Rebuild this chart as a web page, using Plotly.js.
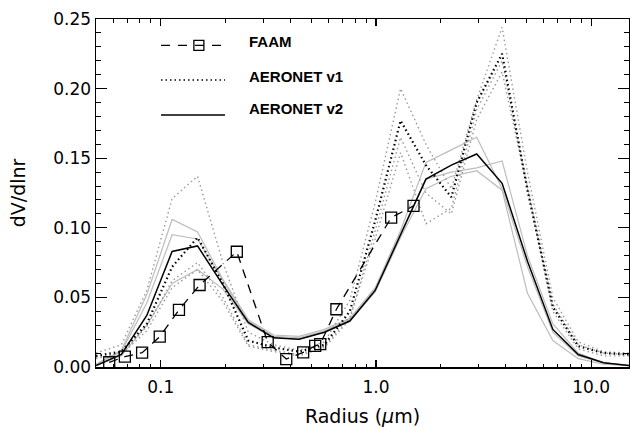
<!DOCTYPE html>
<html><head><meta charset="utf-8">
<script src="https://cdn.plot.ly/plotly-3.0.1.min.js"></script>
<style>html,body{margin:0;padding:0;background:#fff;}#chart{width:630px;height:427px;}</style>
</head><body><div id="chart"></div>
<script>
// AERONET size-bin radii (um)
const radius = [0.050, 0.0656, 0.0861, 0.1129, 0.1482, 0.1944, 0.2551, 0.3347, 0.4392, 0.5762, 0.7561, 0.9920, 1.3016, 1.7078, 2.2408, 2.9400, 3.8575, 5.0613, 6.6407, 8.7131, 11.432, 15.000];

// AERONET v2 (solid): mean (black) and individual retrievals (grey)
const v2Mean = [0.001, 0.009, 0.037, 0.083, 0.087, 0.059, 0.032, 0.021, 0.020, 0.025, 0.033, 0.055, 0.095, 0.135, 0.145, 0.153, 0.132, 0.076, 0.027, 0.009, 0.003, 0.001];
const v2A    = [0.002, 0.012, 0.052, 0.106, 0.097, 0.063, 0.034, 0.023, 0.022, 0.027, 0.035, 0.057, 0.098, 0.147, 0.156, 0.165, 0.128, 0.072, 0.025, 0.008, 0.003, 0.001];
const v2B    = [0.002, 0.011, 0.046, 0.095, 0.092, 0.062, 0.033, 0.022, 0.021, 0.026, 0.034, 0.056, 0.096, 0.135, 0.140, 0.143, 0.148, 0.080, 0.031, 0.010, 0.003, 0.001];
const v2C    = [0.001, 0.008, 0.030, 0.060, 0.070, 0.056, 0.031, 0.021, 0.020, 0.025, 0.033, 0.054, 0.093, 0.128, 0.137, 0.141, 0.127, 0.053, 0.019, 0.006, 0.002, 0.001];

// AERONET v1 (dotted): mean (black) and individual retrievals (grey)
const v1Mean = [0.008, 0.011, 0.031, 0.072, 0.093, 0.060, 0.019, 0.014, 0.011, 0.016, 0.040, 0.105, 0.177, 0.145, 0.122, 0.190, 0.225, 0.127, 0.043, 0.015, 0.010, 0.009];
const v1A    = [0.010, 0.016, 0.055, 0.121, 0.137, 0.075, 0.025, 0.016, 0.012, 0.018, 0.048, 0.118, 0.200, 0.160, 0.128, 0.192, 0.244, 0.140, 0.050, 0.018, 0.011, 0.010];
const v1B    = [0.006, 0.010, 0.029, 0.062, 0.075, 0.050, 0.016, 0.012, 0.009, 0.015, 0.036, 0.092, 0.154, 0.103, 0.114, 0.185, 0.220, 0.130, 0.045, 0.016, 0.010, 0.009];
const v1C    = [0.007, 0.009, 0.026, 0.057, 0.070, 0.047, 0.015, 0.011, 0.008, 0.014, 0.034, 0.098, 0.165, 0.125, 0.110, 0.178, 0.212, 0.128, 0.040, 0.013, 0.008, 0.008];

// FAAM aircraft size distribution
const faamRadius = [0.0576, 0.0681, 0.0819, 0.0989, 0.1215, 0.1515, 0.2256, 0.314, 0.383, 0.459, 0.522, 0.551, 0.655, 1.177, 1.495];
const faamValue  = [0.0034, 0.0074, 0.0103, 0.0218, 0.041, 0.0589, 0.0828, 0.0178, 0.0057, 0.0105, 0.0152, 0.0165, 0.0415, 0.1073, 0.1157];

const xTickVals = [0.1, 1, 10];
const xTickText = ["0.1", "1.0", "10.0"];
const legendLabels = ["FAAM", "AERONET v1", "AERONET v2"];

const GREY_SOLID = '#bdbdbd';
const GREY_DOT = '#9a9a9a';
const DOT = '1.5px,3px';

function line(y, color, width, dash) {
  return {x: radius, y: y, type: 'scatter', mode: 'lines', hoverinfo: 'skip',
          line: {color: color, width: width, dash: dash || 'solid'}};
}

const traces = [
  line(v2A, GREY_SOLID, 1.2), line(v2B, GREY_SOLID, 1.2), line(v2C, GREY_SOLID, 1.2),
  line(v1A, GREY_DOT, 1.4, DOT), line(v1B, GREY_DOT, 1.4, DOT), line(v1C, GREY_DOT, 1.4, DOT),
  line(v1Mean, '#000', 2.2, DOT),
  line(v2Mean, '#000', 1.5),
  {x: faamRadius, y: faamValue, type: 'scatter', mode: 'lines+markers', hoverinfo: 'skip',
   line: {color: '#000', width: 1.3, dash: '9px,7px'},
   marker: {symbol: 'square-open', size: 11, color: '#000', line: {width: 1.3, color: '#000'}}}
];

const minorX = [];
[0.01, 0.1, 1, 10].forEach(d => { for (let k = 2; k <= 9; k++) { const v = k * d; if (v > 0.05 && v < 15) minorX.push(v); } });

const legendFont = {family: 'Liberation Sans, Arial, sans-serif', size: 15, color: '#000'};
const lx0 = 0.122, lx1 = 0.242, tx = 0.283;
const lineY = [0.924, 0.8247, 0.7241];
const textY = [0.9354, 0.8342, 0.742];

const shapes = [
  {type: 'line', xref: 'paper', yref: 'paper', x0: lx0, x1: lx1, y0: lineY[0], y1: lineY[0], line: {color: '#000', width: 1.3, dash: '9px,8px'}},
  {type: 'rect', xref: 'paper', yref: 'paper', xsizemode: 'pixel', ysizemode: 'pixel', xanchor: 0.193, yanchor: lineY[0], x0: -5, x1: 5, y0: -5, y1: 5, line: {color: '#000', width: 1.3}},
  {type: 'line', xref: 'paper', yref: 'paper', x0: lx0, x1: lx1, y0: lineY[1], y1: lineY[1], line: {color: '#000', width: 1.6, dash: DOT}},
  {type: 'line', xref: 'paper', yref: 'paper', x0: lx0, x1: lx1, y0: lineY[2], y1: lineY[2], line: {color: '#000', width: 1.5}}
];
const annotations = legendLabels.map((t, i) => ({
  text: '<b>' + t + '</b>', xref: 'paper', yref: 'paper', x: tx, y: textY[i],
  xanchor: 'left', yanchor: 'middle', showarrow: false, font: legendFont
}));

const axisCommon = {
  showline: true, linecolor: '#000', linewidth: 1.5, mirror: 'ticks',
  ticks: 'inside', tickcolor: '#000', tickwidth: 1.2,
  showgrid: false, zeroline: false, automargin: false
};

const layout = {
  width: 630, height: 427,
  margin: {l: 96, r: 1, t: 19, b: 60},
  paper_bgcolor: '#fff', plot_bgcolor: '#fff', showlegend: false,
  font: {family: 'DejaVu Sans, sans-serif', size: 17, color: '#000'},
  xaxis: Object.assign({}, axisCommon, {
    type: 'log', range: [Math.log10(0.05), Math.log10(15)],
    tickmode: 'array', tickvals: xTickVals, ticktext: xTickText, ticklen: 7,
    ticklabelstandoff: 4,
    minor: {tickmode: 'array', tickvals: minorX, ticks: 'inside', ticklen: 3.5, tickwidth: 1, tickcolor: '#000', showgrid: false},
    title: {text: 'Radius (<i>μ</i>m)', font: {size: 19}, standoff: 16}
  }),
  yaxis: Object.assign({}, axisCommon, {
    range: [0, 0.25], tickmode: 'linear', tick0: 0, dtick: 0.05, tickformat: '.2f', ticklen: 10.7,
    minor: {dtick: 0.01, ticks: 'inside', ticklen: 5.3, tickwidth: 1, tickcolor: '#000', showgrid: false},
    title: {text: 'dV/dlnr', font: {size: 19}, standoff: 22}
  }),
  shapes: shapes,
  annotations: annotations
};

Plotly.newPlot('chart', traces, layout, {staticPlot: true, displayModeBar: false});
</script>
</body></html>
